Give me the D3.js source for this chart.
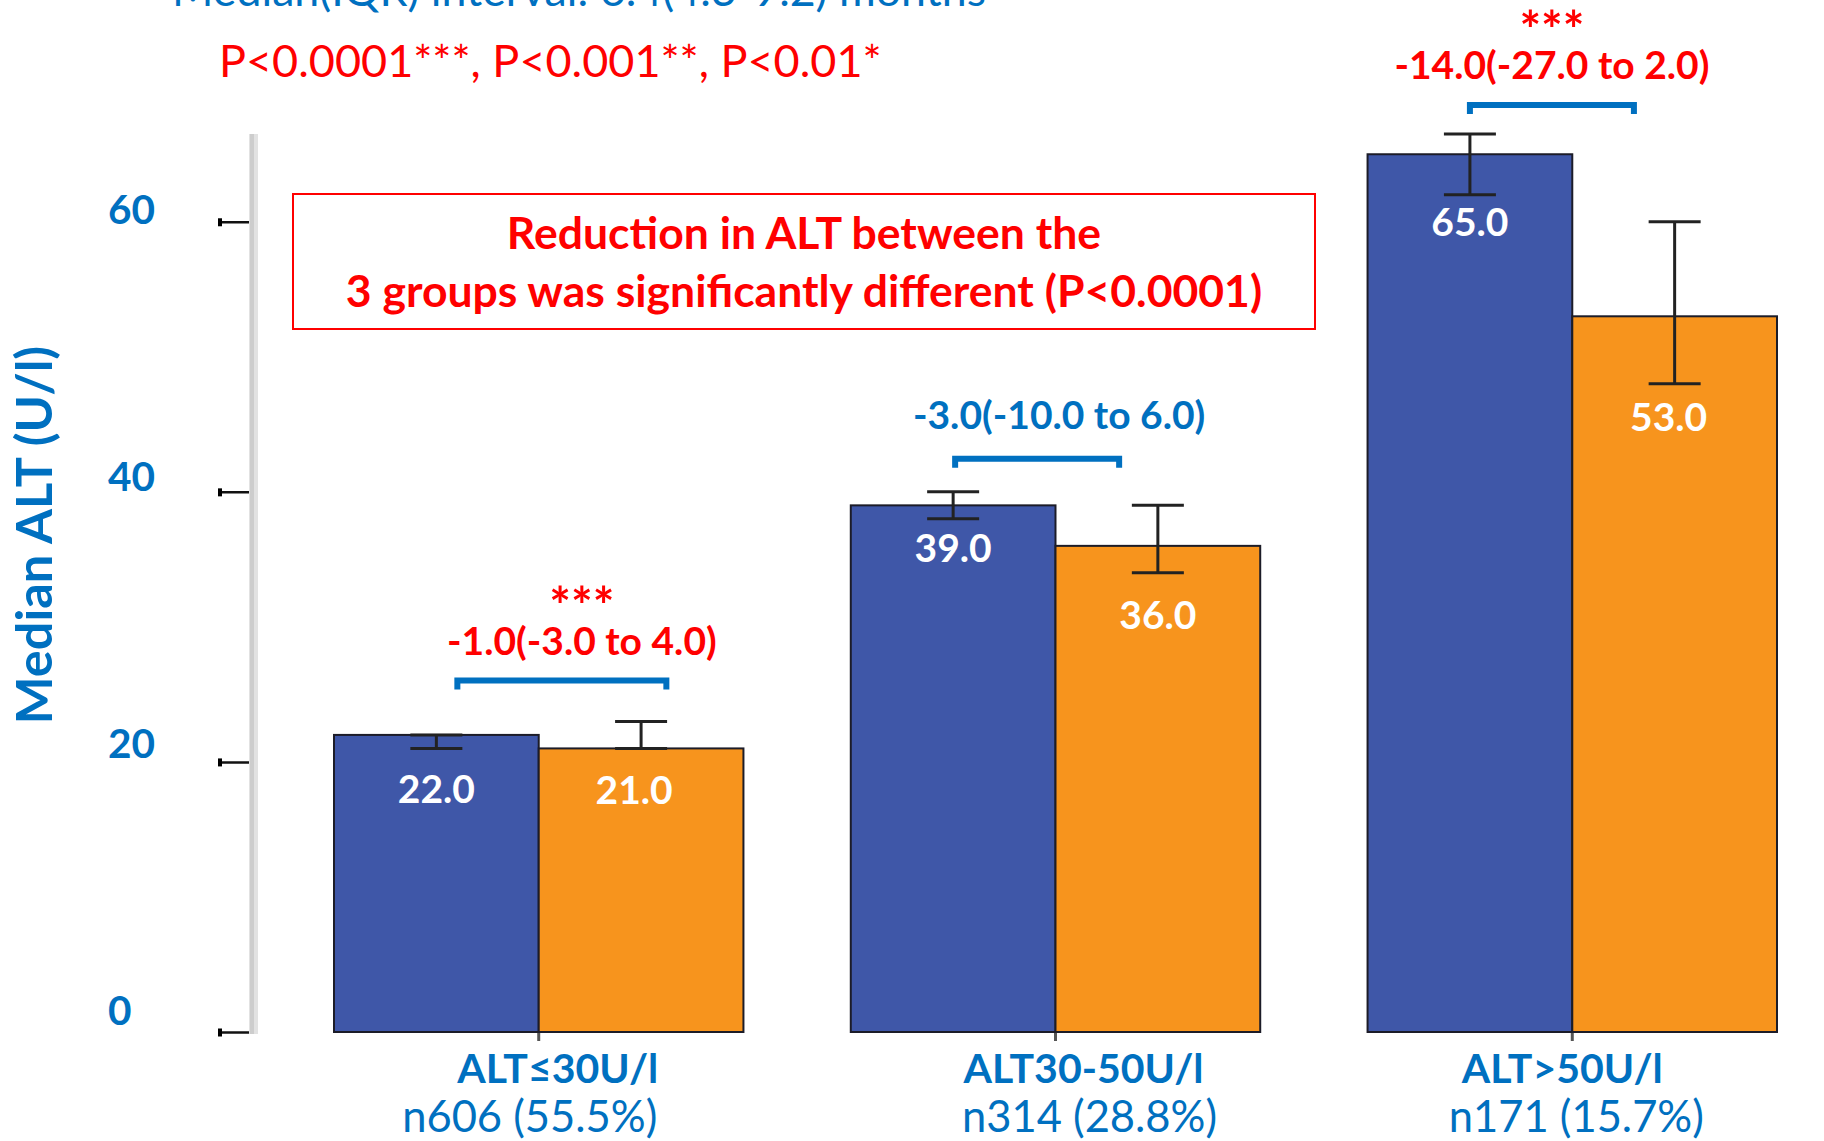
<!DOCTYPE html>
<html><head><meta charset="utf-8">
<script src="https://cdn.jsdelivr.net/npm/d3@7"></script>
<style>html,body{margin:0;padding:0;background:#fff;} svg{display:block;}</style>
</head><body>
<svg id="chart" width="1824" height="1141"></svg>
<script>
// ---------- data ----------
const categories = ["ALT≤30U/l", "ALT30-50U/l", "ALT>50U/l"];
const sampleLabels = ["n606 (55.5%)", "n314 (28.8%)", "n171 (15.7%)"];
const seriesNames = ["Baseline", "Follow-up"];
const baselineValues = [22.0, 39.0, 65.0];
const followupValues = [21.0, 36.0, 53.0];
const baselineLow  = [21.0, 38.0, 62.0];
const baselineHigh = [22.0, 40.0, 66.5];
const followupLow  = [21.0, 34.0, 48.0];
const followupHigh = [23.0, 39.0, 60.0];
const changeLabels = ["-1.0(-3.0 to 4.0)", "-3.0(-10.0 to 6.0)", "-14.0(-27.0 to 2.0)"];
const changeStars  = ["***", "", "***"];
const yTicks = [0, 20, 40, 60];
const yMax = 66.5;
const yTitle = "Median ALT (U/l)";
const topNote = "Median(IQR) interval: 6.4(4.3-9.2) months";
const pNote = "P<0.0001***, P<0.001**, P<0.01*";
const boxLines = ["Reduction in ALT between the", "3 groups was significantly different (P<0.0001)"];

// ---------- style ----------
const BLUE_TXT = "#0070C0", RED = "#FF0000";
const BAR_COLORS = ["#3F57A8", "#F7941D"];
const FONT = "Lato, 'Open Sans', sans-serif";

const svg = d3.select("#chart");

const x = d3.scaleBand().domain(categories).range([334, 1777]).paddingInner(0.2077).paddingOuter(0);
const xs = d3.scaleBand().domain(seriesNames).range([0, x.bandwidth()]).padding(0);
const y = d3.scaleLinear().domain([0, yMax]).range([1032, 134]);

// label nudges (layout only, px): [group][series] -> [dx, dy]
const labelNudge = [[[0, 6], [-7, 7]], [[0, -6], [0, 7]], [[0, -8], [-6, -2]]];

const rows = categories.map((c, i) => ({
  cat: c, i,
  bars: [
    {s: seriesNames[0], v: baselineValues[i], lo: baselineLow[i], hi: baselineHigh[i], n: labelNudge[i][0]},
    {s: seriesNames[1], v: followupValues[i], lo: followupLow[i], hi: followupHigh[i], n: labelNudge[i][1]}
  ]
}));

// ---------- y axis ----------
const yAxis = svg.append("g").attr("transform", "translate(252,0)")
  .call(d3.axisLeft(y).tickValues(yTicks).tickSize(33).tickSizeOuter(0).tickFormat(d3.format("d")));
yAxis.select(".domain").remove();
yAxis.selectAll(".tick line").attr("stroke", "#111").attr("stroke-width", 2.5);
yAxis.selectAll(".tick").append("rect").attr("x", -34).attr("y", -4).attr("width", 4).attr("height", 8).attr("fill", "#000");
yAxis.selectAll(".tick text")
  .attr("x", 108 - 252).attr("dy", null).attr("y", d => -(22 - d * 0.15) + 0.36 * 40.5)
  .attr("text-anchor", "start")
  .style("font-family", FONT).style("font-weight", 700).style("font-size", "40.5px")
  .attr("fill", BLUE_TXT);
svg.append("rect").attr("x", 249).attr("y", y(yMax)).attr("width", 9).attr("height", y(0) - y(yMax) + 2)
  .attr("fill", "#e2e2e2");
svg.append("rect").attr("x", 250).attr("y", y(yMax)).attr("width", 4).attr("height", y(0) - y(yMax) + 2)
  .attr("fill", "#cdcdcd");

// y title
svg.append("text")
  .attr("transform", `translate(52,535) rotate(-90)`)
  .attr("text-anchor", "middle")
  .style("font-family", FONT).style("font-weight", 700).style("font-size", "50.5px")
  .attr("fill", BLUE_TXT).text(yTitle);

// ---------- x axis ticks ----------
const xAxis = svg.append("g").attr("transform", `translate(0,${y(0)})`)
  .call(d3.axisBottom(x).tickSize(9).tickFormat(""));
xAxis.select(".domain").remove();
xAxis.selectAll(".tick line").attr("stroke", "#555").attr("stroke-width", 3);

// ---------- bars ----------
const groups = svg.append("g").selectAll("g").data(rows).join("g")
  .attr("transform", d => `translate(${x(d.cat)},0)`);

groups.selectAll("rect").data(d => d.bars).join("rect")
  .attr("x", b => xs(b.s)).attr("width", xs.bandwidth())
  .attr("y", b => y(b.v)).attr("height", b => y(0) - y(b.v))
  .attr("fill", (b, j) => BAR_COLORS[j])
  .attr("stroke", "#1c1c28").attr("stroke-width", 2);

// error bars
const capW = 52;
const eb = groups.selectAll("g.err").data(d => d.bars).join("g").attr("class", "err")
  .attr("transform", b => `translate(${xs(b.s) + xs.bandwidth() / 2},0)`);
eb.append("line").attr("x1", 0).attr("x2", 0).attr("y1", b => y(b.lo)).attr("y2", b => y(b.hi))
  .attr("stroke", "#222").attr("stroke-width", 3);
eb.append("line").attr("x1", -capW / 2).attr("x2", capW / 2).attr("y1", b => y(b.lo)).attr("y2", b => y(b.lo))
  .attr("stroke", "#222").attr("stroke-width", 3);
eb.append("line").attr("x1", -capW / 2).attr("x2", capW / 2).attr("y1", b => y(b.hi)).attr("y2", b => y(b.hi))
  .attr("stroke", "#222").attr("stroke-width", 3);

// value labels
eb.append("text")
  .attr("x", b => b.n[0]).attr("y", b => y(b.lo) + 35 + b.n[1] + 0.36 * 39)
  .attr("text-anchor", "middle")
  .style("font-family", FONT).style("font-weight", 700).style("font-size", "39px")
  .attr("fill", "#fff").text(b => b.v.toFixed(1));

// ---------- brackets & change annotations ----------
const annLayout = [
  {b0: 21, b1: 230, gap: 44, tdx: 20, tdy: 36},
  {b0: 2, b1: 166, gap: 36, tdx: 22, tdy: 41},
  {b0: 0, b1: 164, gap: 32, tdx: 0, tdy: 37}
];
rows.forEach((r, i) => {
  const L = annLayout[i];
  const cx0 = x(r.cat) + xs(seriesNames[0]) + xs.bandwidth() / 2;
  const top = y(d3.max(r.bars, b => b.hi)) - L.gap;
  const xa = cx0 + L.b0, xb = cx0 + L.b1;
  svg.append("path")
    .attr("d", `M${xa},${top + 12} V${top + 3} H${xb} V${top + 12}`)
    .attr("fill", "none").attr("stroke", BLUE_TXT).attr("stroke-width", 6).attr("stroke-linejoin", "miter");
  const col = changeStars[i] ? RED : BLUE_TXT;
  const tc = (xa + xb) / 2 + L.tdx;
  const base = top - L.tdy + 0.36 * 39;
  svg.append("text").attr("x", tc).attr("y", base).attr("text-anchor", "middle")
    .style("font-family", FONT).style("font-weight", 700).style("font-size", "39px")
    .attr("fill", col).text(changeLabels[i]);
  if (changeStars[i]) {
    svg.append("text").attr("x", tc).attr("y", base - 30).attr("text-anchor", "middle")
      .style("font-family", FONT).style("font-weight", 700).style("font-size", "51px")
      .attr("fill", RED).text(changeStars[i]);
  }
});

// ---------- category labels ----------
const catDx = [19, 28, -10], nDx = [-9, 34, 4];
rows.forEach((r, i) => {
  const gc = x(r.cat) + x.bandwidth() / 2;
  svg.append("text").attr("x", gc + catDx[i]).attr("y", 1068 + 0.36 * 41).attr("text-anchor", "middle")
    .style("font-family", FONT).style("font-weight", 700).style("font-size", "41px")
    .attr("fill", BLUE_TXT).text(r.cat);
  svg.append("text").attr("x", gc + nDx[i]).attr("y", 1116 + 0.36 * 43.5).attr("text-anchor", "middle")
    .style("font-family", FONT).style("font-weight", 400).style("font-size", "43.5px")
    .attr("fill", BLUE_TXT).text(sampleLabels[i]);
});

// ---------- notes ----------
svg.append("text").attr("x", 172).attr("y", 6)
  .style("font-family", FONT).style("font-size", "44.7px").attr("fill", BLUE_TXT).text(topNote);
svg.append("text").attr("x", 219).attr("y", 60.5 + 0.36 * 45)
  .style("font-family", FONT).style("font-size", "45px").attr("fill", RED).text(pNote);

svg.append("rect").attr("x", 293).attr("y", 194).attr("width", 1022).attr("height", 135)
  .attr("fill", "none").attr("stroke", RED).attr("stroke-width", 2);
boxLines.forEach((t, k) => {
  svg.append("text").attr("x", 804).attr("y", [233, 291][k] + 0.36 * 44.5).attr("text-anchor", "middle")
    .style("font-family", FONT).style("font-weight", 700).style("font-size", "44.5px")
    .attr("fill", RED).text(t);
});
</script>
</body></html>
